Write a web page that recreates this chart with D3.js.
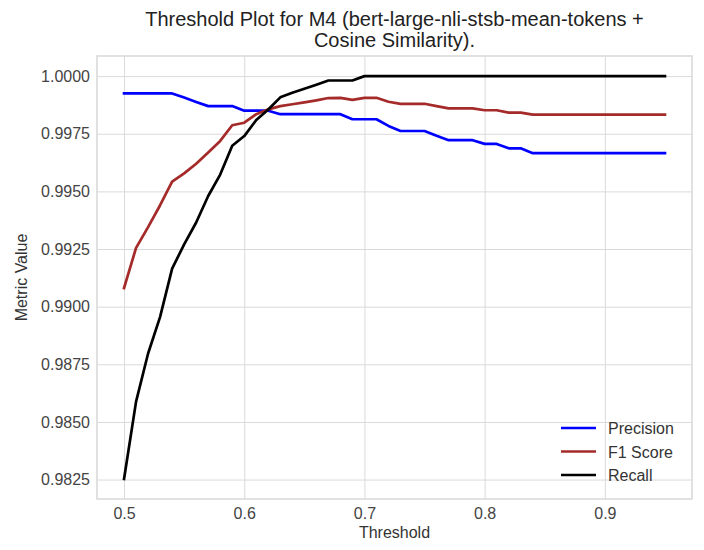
<!DOCTYPE html>
<html>
<head>
<meta charset="utf-8">
<script src="https://cdn.jsdelivr.net/npm/d3@7"></script>
<style>
  body { margin: 0; background: #fff; }
  svg { display: block; font-family: "Liberation Sans", Arial, sans-serif; }
</style>
</head>
<body>
<svg id="chart" width="704" height="550"></svg>
<script>
const thresholds = [0.50,0.51,0.52,0.53,0.54,0.55,0.56,0.57,0.58,0.59,
  0.60,0.61,0.62,0.63,0.64,0.65,0.66,0.67,0.68,0.69,
  0.70,0.71,0.72,0.73,0.74,0.75,0.76,0.77,0.78,0.79,
  0.80,0.81,0.82,0.83,0.84,0.85,0.86,0.87,0.88,0.89,
  0.90,0.91,0.92,0.93,0.94,0.95];
const precision = [0.99925,0.99925,0.99925,0.99925,0.99925,0.99907,0.99888,0.99870,0.99870,0.99870,
  0.99850,0.99850,0.99850,0.99835,0.99835,0.99835,0.99835,0.99835,0.99835,0.99813,
  0.99813,0.99813,0.99784,0.99762,0.99762,0.99762,0.99741,0.99722,0.99722,0.99722,
  0.99706,0.99706,0.99687,0.99687,0.99666,0.99666,0.99666,0.99666,0.99666,0.99666,
  0.99666,0.99666,0.99666,0.99666,0.99666,0.99666];
const f1Score = [0.99081,0.99255,0.99345,0.99440,0.99542,0.99578,0.99620,0.99669,0.99719,0.99787,
  0.99798,0.99835,0.99856,0.99870,0.99878,0.99886,0.99895,0.99905,0.99906,0.99897,
  0.99906,0.99906,0.99889,0.99880,0.99880,0.99880,0.99870,0.99860,0.99860,0.99860,
  0.99852,0.99852,0.99842,0.99842,0.99833,0.99833,0.99833,0.99833,0.99833,0.99833,
  0.99833,0.99833,0.99833,0.99833,0.99833,0.99833];
const recall = [0.98253,0.98588,0.98797,0.98956,0.99165,0.99270,0.99365,0.99480,0.99573,0.99698,
  0.99740,0.99810,0.99855,0.99908,0.99928,0.99945,0.99963,0.99981,0.99981,0.99981,
  1.0,1.0,1.0,1.0,1.0,1.0,1.0,1.0,1.0,1.0,
  1.0,1.0,1.0,1.0,1.0,1.0,1.0,1.0,1.0,1.0,
  1.0,1.0,1.0,1.0,1.0,1.0];
const xTicks = [0.5,0.6,0.7,0.8,0.9];
const yTicks = [0.9825,0.9850,0.9875,0.9900,0.9925,0.9950,0.9975,1.0000];
const seriesNames = ["Precision","F1 Score","Recall"];
const seriesColors = ["#0000ff","#a52a2a","#000000"];
const titleLines = ["Threshold Plot for M4 (bert-large-nli-stsb-mean-tokens +","Cosine Similarity)."];

const svg = d3.select("#chart");
const L = 97, R = 692, T = 56, B = 499;

const xMin = d3.min(thresholds), xMax = d3.max(thresholds);
const xPad = (xMax - xMin) * 0.05;
const x = d3.scaleLinear().domain([xMin - xPad, xMax + xPad]).range([L, R]);
const allY = precision.concat(f1Score, recall);
const yMin = d3.min(allY), yMax = d3.max(allY);
const yPad = (yMax - yMin) * 0.05;
const y = d3.scaleLinear().domain([yMin - yPad, yMax + yPad]).range([B, T]);

const gridColor = "#dadada";

// grid
const gx = svg.append("g").attr("transform", `translate(0,${B})`)
  .call(d3.axisBottom(x).tickValues(xTicks).tickSize(-(B - T)).tickPadding(9).tickFormat(d3.format(".1f")));
const gy = svg.append("g").attr("transform", `translate(${L},0)`)
  .call(d3.axisLeft(y).tickValues(yTicks).tickSize(-(R - L)).tickPadding(7).tickFormat(d3.format(".4f")));
[gx, gy].forEach(g => {
  g.select(".domain").remove();
  g.selectAll(".tick line").attr("stroke", gridColor).attr("stroke-width", 1);
  g.selectAll(".tick text").attr("fill", "#444").style("font-size", "16px")
    .style("font-family", '"Liberation Sans", Arial, sans-serif');
});

// frame
svg.append("rect").attr("x", L).attr("y", T).attr("width", R - L).attr("height", B - T)
  .attr("fill", "none").attr("stroke", gridColor).attr("stroke-width", 1.6);

// lines
const seriesData = [precision, f1Score, recall];
const line = d3.line().x((d, i) => x(thresholds[i])).y(d => y(d));
seriesData.forEach((vals, k) => {
  svg.append("path").datum(vals).attr("d", line)
    .attr("fill", "none").attr("stroke", seriesColors[k]).attr("stroke-width", 2.7)
    .attr("stroke-linejoin", "round").attr("stroke-linecap", "square");
});

// title
svg.append("text").attr("x", (L + R) / 2).attr("text-anchor", "middle")
  .style("font-size", "20px").attr("fill", "#222")
  .selectAll("tspan").data(titleLines).join("tspan")
  .attr("x", (L + R) / 2).attr("y", (d, i) => 26 + i * 21).text(d => d);

// axis labels
svg.append("text").attr("x", (L + R) / 2).attr("y", 538).attr("text-anchor", "middle")
  .style("font-size", "16px").attr("fill", "#333").text("Threshold");
svg.append("text").attr("transform", `translate(27,${(T + B) / 2}) rotate(-90)`)
  .attr("text-anchor", "middle").style("font-size", "16px").attr("fill", "#333").text("Metric Value");

// legend
const lg = svg.append("g");
seriesNames.forEach((name, k) => {
  const yy = 428 + k * 23.5;
  lg.append("line").attr("x1", 561).attr("x2", 596).attr("y1", yy).attr("y2", yy)
    .attr("stroke", seriesColors[k]).attr("stroke-width", 2.7);
  lg.append("text").attr("x", 608).attr("y", yy + 6).style("font-size", "16px")
    .attr("fill", "#333").text(name);
});
</script>
</body>
</html>
